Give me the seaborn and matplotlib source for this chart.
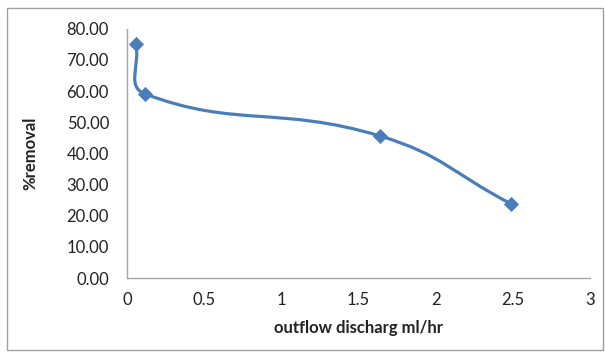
import numpy as np
import pandas as pd
import seaborn as sns
import matplotlib.pyplot as plt
from matplotlib.path import Path
from matplotlib.patches import PathPatch, Rectangle

# data
discharge = [0.058, 0.117, 1.64, 2.49]
removal = [75.2, 59.1, 45.6, 23.8]

x_ticks = [0, 0.5, 1, 1.5, 2, 2.5, 3]
y_ticks = [0, 10, 20, 30, 40, 50, 60, 70, 80]

blue = '#4a7ebb'


def smooth_path(ax, xs, ys, f=0.45):
    # Excel-like smoothed line: cubic bezier segments built in screen space
    pts = ax.transData.transform(np.column_stack([xs, ys]))
    n = len(pts)
    d = [np.hypot(*(pts[i + 1] - pts[i])) for i in range(n - 1)]
    verts = [pts[0]]
    codes = [Path.MOVETO]
    for i in range(n - 1):
        p0 = pts[i - 1] if i > 0 else pts[i]
        p3 = pts[i + 2] if i + 2 < n else pts[i + 1]
        d0 = d[i - 1] if i > 0 else 0
        d2 = d[i + 1] if i + 2 < n else 0
        c1 = pts[i] + (pts[i + 1] - p0) * f * d[i] / (d0 + d[i])
        c2 = pts[i + 1] - (p3 - pts[i]) * f * d[i] / (d[i] + d2)
        verts += [c1, c2, pts[i + 1]]
        codes += [Path.CURVE4] * 3
    verts = ax.transData.inverted().transform(np.array(verts))
    return Path(verts, codes)


sns.set_theme(style="white")
plt.rcParams['font.family'] = ['Lato', 'DejaVu Sans']

fig = plt.figure(figsize=(6.05, 3.56), dpi=100)
ax = fig.add_axes([0.21, 0.219, 0.765, 0.70])
ax.set_xlim(0, 3)
ax.set_ylim(0, 80)

df = pd.DataFrame({'discharge': discharge, 'removal': removal})

path = smooth_path(ax, discharge, removal)
ax.add_patch(PathPatch(path, facecolor='none', edgecolor=blue, lw=2.3,
                       capstyle='round', joinstyle='round', zorder=2))
sns.scatterplot(data=df, x='discharge', y='removal', ax=ax, marker='D',
                s=60, color=blue, edgecolor=blue, linewidth=0, zorder=3)

ax.set_xticks(x_ticks)
ax.set_xticklabels([f'{t:g}' for t in x_ticks])
ax.set_yticks(y_ticks)
ax.set_yticklabels([f'{t:.2f}' for t in y_ticks])
ax.tick_params(axis='both', length=0, labelsize=12, colors='#222222')
ax.tick_params(axis='x', pad=10)
ax.tick_params(axis='y', pad=13)

for side in ['top', 'right']:
    ax.spines[side].set_visible(False)
for side in ['left', 'bottom']:
    ax.spines[side].set_color('#a6a6a6')
    ax.spines[side].set_linewidth(1.0)

ax.set_xlabel('outflow discharg ml/hr', fontsize=12, fontweight='bold',
              color='#222222', labelpad=9)
ax.set_ylabel('%removal', fontsize=12, fontweight='bold', color='#222222',
              labelpad=20)

# chart area border
fig.patches.append(Rectangle((0.012, 0.017), 0.985, 0.96, transform=fig.transFigure,
                             fill=False, edgecolor='#a0a0a0', lw=1.0))

fig.savefig('out.png', dpi=100)
